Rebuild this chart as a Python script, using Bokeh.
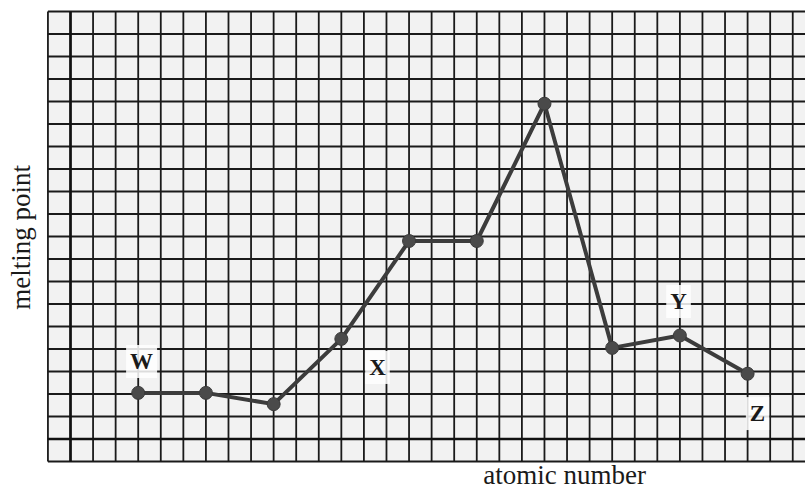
import numpy as np
from bokeh.plotting import figure
from bokeh.models import Label, Range1d
from bokeh.embed import file_html
from bokeh.resources import INLINE

atomic_number = [3, 6, 9, 12, 15, 18, 21, 24, 27, 30]
melting_point = [2.05, 2.05, 1.55, 4.45, 8.8, 8.8, 14.9, 4.05, 4.6, 2.9]
point_names = ["W", "X", "Y", "Z"]
name_x = [3.15, 13.6, 26.94, 30.44]
name_y = [3.44, 3.18, 6.11, 1.13]
x_title = "atomic number"
y_title = "melting point"

W, H = 805, 490
cx, cy = 22.57, 22.5          # px per grid cell
ox, oy = 70.0, 438.5          # pixel position of the origin inside the figure
x0, x1 = -ox / cx, (W - ox) / cx
y1, y0 = oy / cy, (oy - H) / cy

p = figure(width=W, height=H, output_backend="svg", toolbar_location=None,
           x_range=Range1d(x0, x1), y_range=Range1d(y0, y1),
           min_border=0, outline_line_color=None)
p.axis.visible = False
p.grid.visible = False
p.background_fill_color = "white"
p.border_fill_color = "white"

# graph paper
p.quad(left=[-1], right=[x1], bottom=[-1], top=[19], fill_color="#f2f2f2", line_color=None)
vx = np.arange(-1, 33)
p.segment(x0=vx, y0=-1, x1=vx, y1=19, line_color="#1a1a1a", line_width=1.8)
hy = np.arange(-1, 20)
p.segment(x0=-1, y0=hy, x1=x1, y1=hy, line_color="#1a1a1a", line_width=1.8)
p.segment(x0=[0, -1], y0=[-1, 0], x1=[0, x1], y1=[19, 0], line_color="#111111", line_width=2.6)

# point names on white patches
for t, lx, ly in zip(point_names, name_x, name_y):
    p.add_layout(Label(x=lx, y=ly, text=t, text_align="center", text_baseline="middle",
                       text_font="Liberation Serif", text_font_style="bold",
                       text_font_size="23px", text_color="#1a1a1a",
                       background_fill_color="white", background_fill_alpha=0.85,
                       padding=4))

# data
p.line(atomic_number, melting_point, line_color="#3c3c3c", line_width=4)
p.scatter(atomic_number, melting_point, size=13, fill_color="#4a4a4a", line_color="#3a3a3a")

# axis titles
p.add_layout(Label(x=-2.215, y=8.96, text=y_title, angle=np.pi / 2,
                   text_align="center", text_baseline="middle",
                   text_font="Liberation Serif", text_font_size="27px", text_color="#1a1a1a"))
p.add_layout(Label(x=21.89, y=-1.6, text=x_title,
                   text_align="center", text_baseline="middle",
                   text_font="Liberation Serif", text_font_size="27px", text_color="#1a1a1a"))

open("out.html", "w").write(file_html(p, INLINE))
